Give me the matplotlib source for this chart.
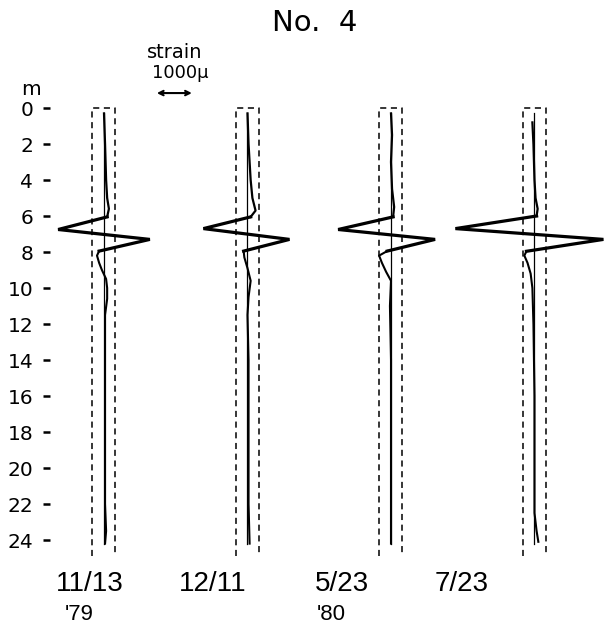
import matplotlib
matplotlib.use("Agg")
import matplotlib.pyplot as plt

# depth (m) and strain (micro), one set per survey date
dates = ["11/13", "12/11", "5/23", "7/23"]
years = ["'79", "", "'80", ""]
depth_ticks = list(range(0, 25, 2))

upper_depth = [
    [0.3, 2.0, 4.0, 5.0, 5.6, 6.05],
    [0.3, 2.0, 4.0, 5.0, 5.7, 6.05],
    [0.3, 1.5, 3.0, 4.5, 5.5, 6.05],
    [0.8, 2.0, 4.0, 5.0, 5.6, 6.0],
]
upper_strain = [
    [0, 30, 60, 90, 140, 90],
    [0, 30, 90, 140, 230, 90],
    [0, 30, 0, 30, 90, 60],
    [-60, -30, 0, 30, 90, 60],
]

zig_depth = [
    [6.05, 6.75, 7.3, 7.95],
    [6.05, 6.7, 7.3, 7.95],
    [6.05, 6.75, 7.3, 7.95],
    [6.0, 6.7, 7.3, 7.96],
]
zig_strain = [
    [90, -1310, 1310, -140],
    [90, -1260, 1200, -110],
    [60, -1510, 1260, -110],
    [60, -2260, 1970, -230],
]

lower_depth = [
    [7.95, 8.2, 8.6, 9.0, 9.5, 10.0, 10.6, 11.5, 14.0, 18.0, 22.0, 23.5, 24.2],
    [7.95, 8.3, 8.9, 9.6, 10.5, 11.5, 14.0, 18.0, 22.0, 24.2],
    [7.95, 8.2, 8.6, 9.1, 9.6, 11.0, 14.0, 18.0, 22.0, 24.2],
    [7.96, 8.2, 8.6, 9.2, 10.0, 12.0, 16.0, 20.0, 22.5, 23.5, 24.1],
]
lower_strain = [
    [-140, -200, -140, -60, 60, 90, 90, 30, 30, 30, 30, 60, 30],
    [-110, -90, 0, 90, 30, 0, 30, 30, 30, 60],
    [-110, -340, -260, -140, 0, -30, 0, 0, 0, 0],
    [-230, -290, -200, -110, -60, -30, 0, 0, 0, 60, 110],
]

# layout
offsets = [0, 4100, 8200, 12300]
box_left, box_right = -340, 315
box_bottom = 24.9
label_font = ["Liberation Sans", "DejaVu Sans"]

fig = plt.figure(figsize=(6.04, 6.34), dpi=100)
ax = fig.add_axes([50 / 604, 76 / 634, 554 / 604, 459 / 634])
ax.set_xlim(-1543, 14286)
ax.set_ylim(25, -0.5)

for i, off in enumerate(offsets):
    # dashed gauge box
    ax.plot([off + box_left, off + box_left, off + box_right, off + box_right],
            [box_bottom, 0, 0, box_bottom], color="black", lw=1.1,
            dashes=(4, 3), clip_on=False)
    # zero line
    ax.plot([off, off], [0.3, 24.2], color="black", lw=0.9)
    ax.plot([off + s for s in upper_strain[i]], upper_depth[i], color="black", lw=1.6)
    ax.plot([off + s for s in lower_strain[i]], lower_depth[i], color="black", lw=1.5)
    ax.plot([off + s for s in zig_strain[i]], zig_depth[i], color="black", lw=2.3,
            solid_joinstyle="miter", clip_on=False)

ax.set_yticks(depth_ticks)
ax.set_yticklabels([str(d) for d in depth_ticks])
ax.set_xticks([])
ax.tick_params(axis="y", direction="out", length=5, width=1.8, pad=7, labelsize=14.5)
for sp in ax.spines.values():
    sp.set_visible(False)

ax.text(-0.035, 1.0, "m", transform=ax.transAxes, ha="center", va="bottom",
        fontsize=14.5)

# strain scale bar
ax.annotate("", xy=(1510, -0.83), xytext=(2510, -0.83),
            arrowprops=dict(arrowstyle="<->", lw=1.5, color="black",
                            mutation_scale=8, shrinkA=0, shrinkB=0),
            annotation_clip=False)
fig.text(175 / 604, 1 - 52 / 634, "strain", ha="center", va="center", fontsize=14)
fig.text(180 / 604, 1 - 73 / 634, "1000µ", ha="center", va="center", fontsize=13)

fig.text(315 / 604, 1 - 23 / 634, "No.  4", ha="center", va="center", fontsize=21)

label_x = [90, 213, 342, 462]
year_x = [65, 0, 317, 0]
for lab, yr, lx, yx in zip(dates, years, label_x, year_x):
    fig.text(lx / 604, 1 - 584 / 634, lab, ha="center", va="center", fontsize=20,
             family=label_font)
    if yr:
        fig.text(yx / 604, 1 - 615 / 634, yr, ha="left", va="center", fontsize=16,
                 family=label_font)

fig.savefig("out.png", dpi=100)
